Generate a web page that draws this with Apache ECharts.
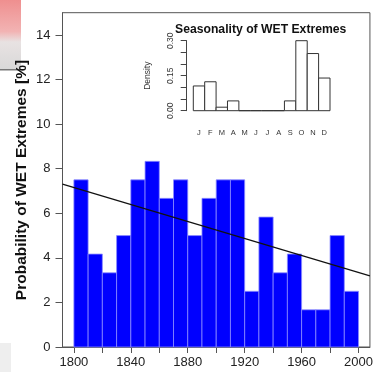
<!DOCTYPE html>
<html>
<head>
<meta charset="utf-8">
<script src="https://cdn.jsdelivr.net/npm/echarts@6/dist/echarts.min.js"></script>
<style>
  html, body { margin: 0; padding: 0; background: #fff; }
  #chart { width: 376px; height: 372px; }
</style>
</head>
<body>
<div id="chart"></div>
<script>
// decade bins (start year) and probability of wet extremes [%]
const binStarts = [1800, 1810, 1820, 1830, 1840, 1850, 1860, 1870, 1880, 1890,
                   1900, 1910, 1920, 1930, 1940, 1950, 1960, 1970, 1980, 1990];
const probs = [7.5, 4.17, 3.33, 5.0, 7.5, 8.33, 6.67, 7.5, 5.0, 6.67,
               7.5, 7.5, 2.5, 5.83, 3.33, 4.17, 1.67, 1.67, 5.0, 2.5];
const binWidth = 10;

// linear trend, read at both ends of the x range
const trendYears = [1792, 2008];
const trendVals = [7.31, 3.19];

const yearTicks = [1800, 1820, 1840, 1860, 1880, 1900, 1920, 1940, 1960, 1980, 2000];
const yearLabels = [1800, 1840, 1880, 1920, 1960, 2000];
const probTicks = [0, 2, 4, 6, 8, 10, 12, 14];

// inset: seasonality density by month
const months = ['J', 'F', 'M', 'A', 'M', 'J', 'J', 'A', 'S', 'O', 'N', 'D'];
const density = [0.106, 0.124, 0.015, 0.042, 0, 0, 0, 0, 0.042, 0.30, 0.245, 0.14];
const densTicks = [0, 0.05, 0.1, 0.15, 0.2, 0.25, 0.3];
const densLabels = [0, 0.15, 0.3];

const font = '"Liberation Sans", Arial, sans-serif';
const chart = echarts.init(document.getElementById('chart'));

const option = {
  animation: false,
  textStyle: { fontFamily: font },
  title: {
    text: 'Seasonality of WET Extremes',
    left: 175,
    top: 24,
    padding: 0,
    textStyle: { fontSize: 12.2, fontWeight: 'bold', color: '#111', fontFamily: font }
  },
  graphic: [
    {
      type: 'rect', left: 0, top: 0, silent: true, z: -1,
      shape: { width: 21, height: 70 },
      style: {
        fill: new echarts.graphic.LinearGradient(0, 0, 0, 1, [
          { offset: 0, color: '#ef8f8f' },
          { offset: 0.45, color: '#f2b3b3' },
          { offset: 0.6, color: '#e8e2e2' },
          { offset: 1, color: '#d8d8d8' }
        ])
      }
    },
    {
      type: 'rect', left: 0, top: 69, silent: true, z: -1,
      shape: { width: 20, height: 1.5 },
      style: { fill: '#777' }
    },
    {
      type: 'rect', left: 0, top: 343, silent: true, z: -1,
      shape: { width: 11, height: 29 },
      style: { fill: '#eeeeee' }
    },
    {
      // main y axis title
      type: 'text', x: 22, y: 180, rotation: Math.PI / 2, silent: true,
      style: {
        text: 'Probability of WET Extremes [%]',
        fontSize: 15.5, fontWeight: 'bold', fill: '#111', fontFamily: font,
        align: 'center', verticalAlign: 'middle'
      }
    }
  ],
  grid: [
    {
      left: 62.5, top: 12.7, width: 310.2, height: 334.3,
      show: true, borderColor: '#555', borderWidth: 1
    },
    {
      left: 193.3, top: 40.7, width: 136.7, height: 70,
      show: false
    }
  ],
  xAxis: [
    {
      type: 'value', gridIndex: 0, min: 1792, max: 2008,
      splitLine: { show: false },
      axisLine: { show: true, lineStyle: { color: '#555', width: 1 } },
      axisTick: { show: true, length: 6, customValues: yearTicks, lineStyle: { color: '#555' } },
      axisLabel: {
        customValues: yearLabels, margin: 9,
        fontSize: 13, color: '#222', fontFamily: font,
        formatter: v => String(v)
      }
    },
    {
      type: 'category', gridIndex: 1, data: months,
      boundaryGap: true,
      axisLine: { show: false },
      axisTick: { show: false },
      axisLabel: { margin: 18, fontSize: 7.5, color: '#333', fontFamily: font, interval: 0 }
    }
  ],
  yAxis: [
    {
      type: 'value', gridIndex: 0, min: 0, max: 15,
      splitLine: { show: false },
      axisLine: { show: true, lineStyle: { color: '#555', width: 1 } },
      axisTick: { show: true, length: 7, customValues: probTicks, lineStyle: { color: '#555' } },
      axisLabel: {
        customValues: probTicks, margin: 12,
        fontSize: 13, color: '#222', fontFamily: font
      }
    },
    {
      type: 'value', gridIndex: 1, min: 0, max: 0.3,
      offset: 6.6,
      splitLine: { show: false },
      axisLine: { show: true, lineStyle: { color: '#444', width: 1 } },
      axisTick: { show: true, length: 6, customValues: densTicks, lineStyle: { color: '#444' } },
      axisLabel: {
        customValues: densLabels, rotate: 90, margin: 12,
        fontSize: 8.5, color: '#333', fontFamily: font,
        formatter: v => v.toFixed(2)
      },
      name: 'Density',
      nameLocation: 'middle',
      nameRotate: 90,
      nameGap: 35,
      nameTextStyle: { fontSize: 8.5, color: '#333', fontFamily: font }
    }
  ],
  series: [
    {
      type: 'custom',
      xAxisIndex: 0, yAxisIndex: 0,
      silent: true,
      encode: { x: [0, 1], y: 2 },
      data: binStarts.map((s, i) => [s, s + binWidth, probs[i]]),
      renderItem(params, api) {
        const p0 = api.coord([api.value(0), api.value(2)]);
        const p1 = api.coord([api.value(1), 0]);
        return {
          type: 'rect',
          shape: { x: p0[0], y: p0[1], width: p1[0] - p0[0], height: p1[1] - p0[1] },
          style: { fill: '#0000ff', stroke: '#8c8cff', lineWidth: 0.8 }
        };
      }
    },
    {
      type: 'line',
      xAxisIndex: 0, yAxisIndex: 0,
      data: trendYears.map((y, i) => [y, trendVals[i]]),
      symbol: 'none',
      silent: true,
      z: 5,
      lineStyle: { color: '#111', width: 1.2 }
    },
    {
      type: 'custom',
      xAxisIndex: 1, yAxisIndex: 1,
      silent: true,
      encode: { x: 0, y: 1 },
      data: density.map((v, i) => [i, v]),
      renderItem(params, api) {
        const c = api.coord([api.value(0), api.value(1)]);
        const s = api.size([1, api.value(1)]);
        return {
          type: 'rect',
          shape: { x: c[0] - s[0] / 2, y: c[1], width: s[0], height: s[1] },
          style: { fill: '#fff', stroke: '#333', lineWidth: 1 }
        };
      }
    }
  ]
};

chart.setOption(option);
</script>
</body>
</html>
